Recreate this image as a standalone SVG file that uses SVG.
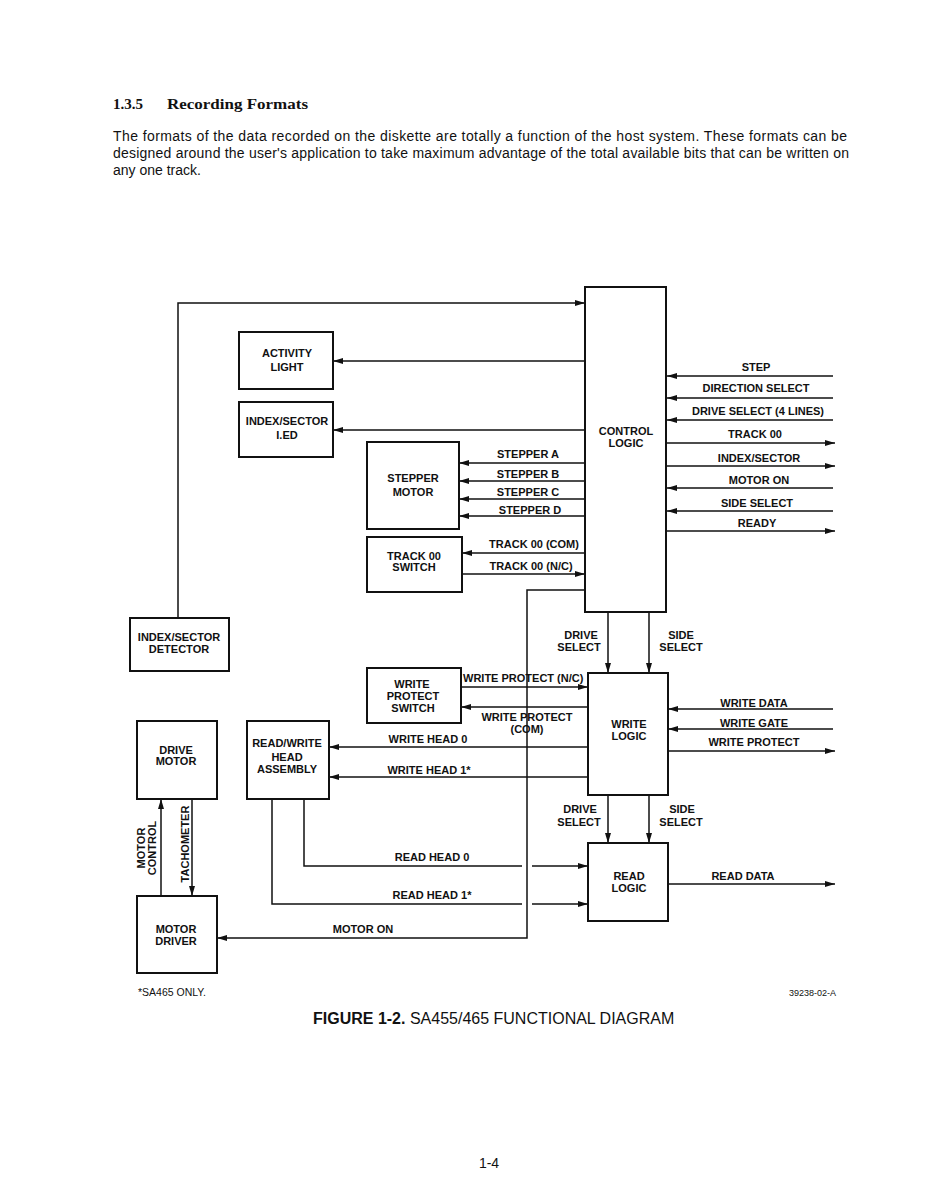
<svg xmlns="http://www.w3.org/2000/svg" width="939" height="1204" viewBox="0 0 939 1204">
<defs>
<marker id="arr" viewBox="0 0 10 6" refX="10" refY="3" markerWidth="10" markerHeight="6" markerUnits="userSpaceOnUse" orient="auto"><path d="M0,0 L10,3 L0,6 z" fill="#111"/></marker>
<style>
.box{fill:#fff;stroke:#111;stroke-width:2}
.ln{fill:none;stroke:#111;stroke-width:1.5}
.a{marker-end:url(#arr)}
.t{font-family:"Liberation Sans",Arial,sans-serif;font-weight:bold;font-size:11px;fill:#111;text-anchor:middle}
.p{font-family:"Liberation Sans",Arial,sans-serif;font-size:14px;fill:#111}
</style>
</defs>
<rect width="939" height="1204" fill="#fff"/>
<text x="113" y="109" font-family="'Liberation Serif',serif" font-weight="bold" font-size="15" fill="#111">1.3.5</text>
<text x="167" y="109" font-family="'Liberation Serif',serif" font-weight="bold" font-size="15" fill="#111" textLength="141" lengthAdjust="spacingAndGlyphs">Recording Formats</text>
<text class="p" x="113" y="141" textLength="734" lengthAdjust="spacing">The formats of the data recorded on the diskette are totally a function of the host system.  These formats can be</text>
<text class="p" x="113" y="158" textLength="736" lengthAdjust="spacing">designed around the user's application to take maximum advantage of the total available bits that can be written on</text>
<text class="p" x="113" y="175">any one track.</text>

<g id="connectors">
<path class="ln a" d="M178,618 V303 H585"/>
<path class="ln a" d="M585,361 H333"/>
<path class="ln a" d="M585,430 H333"/>
<path class="ln a" d="M585,463 H459"/>
<path class="ln a" d="M585,481 H459"/>
<path class="ln a" d="M585,499 H459"/>
<path class="ln a" d="M585,516 H459"/>
<path class="ln a" d="M585,553 H462"/>
<path class="ln a" d="M462,574 H585"/>
<path class="ln a" d="M585,590 H527 V938 H217"/>
<path class="ln a" d="M833,376 H667"/>
<path class="ln a" d="M833,398 H667"/>
<path class="ln a" d="M833,420 H667"/>
<path class="ln a" d="M667,443 H835"/>
<path class="ln a" d="M667,466 H835"/>
<path class="ln a" d="M833,488 H667"/>
<path class="ln a" d="M833,511 H667"/>
<path class="ln a" d="M667,531 H835"/>
<path class="ln a" d="M608,612 V673"/>
<path class="ln a" d="M649,612 V673"/>
<path class="ln a" d="M461,687 H588"/>
<path class="ln a" d="M588,707 H461"/>
<path class="ln a" d="M588,747 H329"/>
<path class="ln a" d="M588,777 H329"/>
<path class="ln a" d="M833,709 H668"/>
<path class="ln a" d="M833,729 H668"/>
<path class="ln a" d="M668,751 H835"/>
<path class="ln a" d="M608,795 V843"/>
<path class="ln a" d="M649,795 V843"/>
<path class="ln" d="M304,799 V866 H522"/>
<path class="ln a" d="M532,866 H588"/>
<path class="ln" d="M272,799 V904 H522"/>
<path class="ln a" d="M532,904 H588"/>
<path class="ln a" d="M668,884 H835"/>
<path class="ln a" d="M161,896 V799"/>
<path class="ln a" d="M192,799 V896"/>
<g id="connector-labels">
<text class="t" x="528" y="458">STEPPER A</text>
<text class="t" x="528" y="478">STEPPER B</text>
<text class="t" x="528" y="496">STEPPER C</text>
<text class="t" x="530" y="514">STEPPER D</text>
<text class="t" x="534" y="548">TRACK 00 (COM)</text>
<text class="t" x="531" y="570">TRACK 00 (N/C)</text>
<text class="t" x="756" y="371">STEP</text>
<text class="t" x="756" y="392">DIRECTION SELECT</text>
<text class="t" x="758" y="415">DRIVE SELECT (4 LINES)</text>
<text class="t" x="755" y="438">TRACK 00</text>
<text class="t" x="759" y="462">INDEX/SECTOR</text>
<text class="t" x="759" y="484">MOTOR ON</text>
<text class="t" x="757" y="507">SIDE SELECT</text>
<text class="t" x="757" y="527">READY</text>
<text class="t" x="581" y="639">DRIVE</text>
<text class="t" x="579" y="651">SELECT</text>
<text class="t" x="681" y="639">SIDE</text>
<text class="t" x="681" y="651">SELECT</text>
<text class="t" x="463" y="682" style="text-anchor:start">WRITE PROTECT (N/C)</text>
<text class="t" x="527" y="721">WRITE PROTECT</text>
<text class="t" x="527" y="733">(COM)</text>
<text class="t" x="428" y="743">WRITE  HEAD 0</text>
<text class="t" x="429" y="774">WRITE HEAD 1*</text>
<text class="t" x="754" y="707">WRITE DATA</text>
<text class="t" x="754" y="727">WRITE GATE</text>
<text class="t" x="754" y="746">WRITE PROTECT</text>
<text class="t" x="580" y="813">DRIVE</text>
<text class="t" x="579" y="826">SELECT</text>
<text class="t" x="682" y="813">SIDE</text>
<text class="t" x="681" y="826">SELECT</text>
<text class="t" x="432" y="861">READ  HEAD 0</text>
<text class="t" x="432" y="899">READ HEAD 1*</text>
<text class="t" x="743" y="880">READ DATA</text>
<text class="t" x="363" y="933">MOTOR ON</text>
<text class="t" transform="translate(145,848) rotate(-90)">MOTOR</text>
<text class="t" transform="translate(156,848) rotate(-90)">CONTROL</text>
<text class="t" transform="translate(189,844) rotate(-90)">TACHOMETER</text>
</g>
</g>

<g id="control-logic"><rect class="box" x="585" y="287" width="81" height="325"/><text class="t" x="626" y="435">CONTROL</text><text class="t" x="626" y="447">LOGIC</text></g>
<g id="activity-light"><rect class="box" x="239" y="332" width="94" height="57"/><text class="t" x="287" y="357">ACTIVITY</text><text class="t" x="287" y="371">LIGHT</text></g>
<g id="index-sector-led"><rect class="box" x="239" y="402" width="94" height="55"/><text class="t" x="287" y="425">INDEX/SECTOR</text><text class="t" x="287" y="439">I.ED</text></g>
<g id="stepper-motor"><rect class="box" x="367" y="442" width="92" height="87"/><text class="t" x="413" y="482">STEPPER</text><text class="t" x="413" y="496">MOTOR</text></g>
<g id="track00-switch"><rect class="box" x="367" y="537" width="95" height="55"/><text class="t" x="414" y="560">TRACK 00</text><text class="t" x="414" y="571">SWITCH</text></g>
<g id="index-sector-detector"><rect class="box" x="130" y="618" width="99" height="53"/><text class="t" x="179" y="641">INDEX/SECTOR</text><text class="t" x="179" y="653">DETECTOR</text></g>
<g id="write-protect-switch"><rect class="box" x="367" y="668" width="94" height="55"/><text class="t" x="412" y="688">WRITE</text><text class="t" x="413" y="700">PROTECT</text><text class="t" x="413" y="712">SWITCH</text></g>
<g id="write-logic"><rect class="box" x="588" y="673" width="80" height="122"/><text class="t" x="629" y="728">WRITE</text><text class="t" x="629" y="740">LOGIC</text></g>
<g id="read-write-head"><rect class="box" x="247" y="721" width="82" height="78"/><text class="t" x="287" y="747">READ/WRITE</text><text class="t" x="287" y="761">HEAD</text><text class="t" x="287" y="773">ASSEMBLY</text></g>
<g id="drive-motor"><rect class="box" x="137" y="721" width="80" height="78"/><text class="t" x="176" y="754">DRIVE</text><text class="t" x="176" y="765">MOTOR</text></g>
<g id="read-logic"><rect class="box" x="588" y="843" width="80" height="78"/><text class="t" x="629" y="880">READ</text><text class="t" x="629" y="892">LOGIC</text></g>
<g id="motor-driver"><rect class="box" x="137" y="896" width="80" height="77"/><text class="t" x="176" y="933">MOTOR</text><text class="t" x="176" y="945">DRIVER</text></g>

<text x="138" y="996" font-family="'Liberation Sans',Arial,sans-serif" font-size="10.5" fill="#111">*SA465 ONLY.</text>
<text x="836" y="996" font-family="'Liberation Sans',Arial,sans-serif" font-size="9" fill="#111" text-anchor="end">39238-02-A</text>
<text x="313" y="1024" font-family="'Liberation Sans',Arial,sans-serif" font-size="16" fill="#111"><tspan font-weight="bold">FIGURE 1-2.</tspan> SA455/465 FUNCTIONAL DIAGRAM</text>
<text x="489" y="1168" font-family="'Liberation Sans',Arial,sans-serif" font-size="14" fill="#111" text-anchor="middle">1-4</text>
</svg>
